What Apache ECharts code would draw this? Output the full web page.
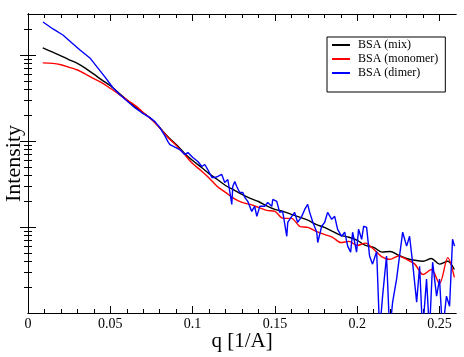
<!DOCTYPE html>
<html><head><meta charset="utf-8">
<script src="https://cdn.jsdelivr.net/npm/echarts@6/dist/echarts.min.js"></script>
<style>html,body{margin:0;padding:0;background:#fff}#c{width:464px;height:357px}</style>
</head><body><div id="c"></div>
<script>
// ---- data ----
const qCurve = [0.009,0.015,0.02,0.025,0.03,0.035,0.04,0.045,0.05,0.055,0.06,0.065,0.07,0.075,0.08,0.085,0.09,0.095,0.1,0.105,0.11,0.115,0.12,0.125,0.13,0.135,0.14,0.145,0.15,0.155,0.16,0.165,0.17,0.175,0.18,0.185,0.19,0.195,0.2,0.205,0.21,0.215,0.22,0.225,0.23,0.235,0.24,0.245,0.25,0.255,0.259];
const iMix = [121,108,98,88,80,70,60,51,44,36.4,30.2,25.1,21.3,18.0,14.3,11.2,9.1,7.23,5.93,5.0,4.18,3.57,3.04,2.70,2.39,2.15,1.98,1.76,1.60,1.52,1.40,1.30,1.20,1.07,0.99,0.89,0.80,0.76,0.70,0.61,0.58,0.51,0.52,0.47,0.43,0.41,0.40,0.43,0.37,0.40,0.32];
const iMonomer = [81,80,77,72,67,60,53,47.5,41,35.3,30.2,26,21.5,17.8,14.3,11.0,8.9,7.0,5.46,4.54,3.72,2.96,2.53,2.15,1.93,1.83,1.69,1.56,1.52,1.26,1.26,1.02,0.99,0.89,0.82,0.76,0.66,0.68,0.61,0.65,0.55,0.45,0.42,0.46,0.42,0.37,0.28,0.32,0.22,0.44,0.26];
const qDimer = [0.0091,0.0152,0.0212,0.0267,0.0316,0.0376,0.0419,0.0467,0.0516,0.0558,0.0607,0.0649,0.0692,0.074,0.0771,0.0801,0.0831,0.085,0.0862,0.0922,0.0953,0.0971,0.1001,0.1032,0.1056,0.1074,0.1092,0.1117,0.1135,0.1153,0.1177,0.1195,0.1214,0.1238,0.1244,0.1256,0.1268,0.1286,0.1305,0.1317,0.1335,0.1359,0.1377,0.139,0.1408,0.1438,0.1456,0.1481,0.1487,0.1511,0.1529,0.1547,0.1572,0.1578,0.1602,0.162,0.1638,0.1663,0.1681,0.1699,0.1711,0.1729,0.1754,0.176,0.1784,0.1802,0.182,0.1845,0.1863,0.1881,0.1905,0.1924,0.1942,0.196,0.1972,0.1996,0.2008,0.2027,0.2039,0.2057,0.2075,0.2093,0.2118,0.2136,0.2154,0.2178,0.2197,0.2215,0.2239,0.2257,0.2276,0.23,0.2318,0.2336,0.2361,0.2379,0.2397,0.2421,0.2439,0.2458,0.2482,0.25,0.2518,0.2542,0.2561,0.2579,0.2591];
const iDimer = [242,201,171,138,114.6,92.5,72.8,55.8,41.6,34.5,28.6,24.4,21.3,18.7,16.8,14.3,11.55,9.84,9.08,7.95,6.96,7.34,6.42,5.77,5.05,5.33,4.66,3.77,3.77,3.87,4.08,3.30,3.57,1.83,2.96,3.38,2.96,2.52,2.52,2.21,1.99,1.52,1.74,1.33,1.74,1.74,1.93,1.74,2.09,1.99,1.48,1.52,0.78,1.13,1.33,1.48,1.13,1.33,1.60,1.83,1.48,1.16,0.87,0.66,1.02,1.13,1.48,1.23,1.33,0.94,0.78,0.87,0.60,0.51,0.87,0.51,0.94,0.72,1.02,0.99,0.46,0.37,0.52,0.06,0.157,0.46,0.06,0.134,0.248,0.46,0.87,0.60,0.78,0.39,0.134,0.35,0.06,0.248,0.06,0.39,0.157,0.248,0.06,0.157,0.12,0.72,0.60];
const seriesNames = ['BSA (mix)','BSA (monomer)','BSA (dimer)'];
const seriesColors = ['#000000','#ff0000','#0000ff'];
const xTickLabels = [0,0.05,0.1,0.15,0.2,0.25];
const xMinorTicks = [0.01,0.02,0.03,0.04,0.06,0.07,0.08,0.09,0.11,0.12,0.13,0.14,0.16,0.17,0.18,0.19,0.21,0.22,0.23,0.24];
const yMajorTicks = [1,10,100];
const yMinorTicks = [0.2,0.3,0.4,0.5,0.6,0.7,0.8,0.9,2,3,4,5,6,7,8,9,20,30,40,50,60,70,80,90,200];

const pairs = (xs, ys) => xs.map((x, i) => [x, ys[i]]);
const FONT = 'Liberation Serif';

function xAx(pos, ticks, len, labels, name) {
  return {
    type: 'value', min: 0, max: 0.26, position: pos,
    name: name || '', nameLocation: 'middle', nameGap: 18, nameMoveOverlap: false,
    nameTextStyle: { fontFamily: FONT, fontSize: 21, color: '#000' },
    axisLine: { show: true, onZero: false, lineStyle: { color: '#000', width: 1 } },
    axisTick: { show: true, inside: true, length: len, customValues: ticks, lineStyle: { color: '#000', width: 1 } },
    axisLabel: { show: !!labels, customValues: labels || ticks, fontFamily: FONT, fontSize: 14, color: '#000', margin: 4,
      formatter: v => String(v) },
    splitLine: { show: false }
  };
}
function yAx(pos, ticks, len, name) {
  return {
    type: 'log', logBase: 10, min: 0.1, max: 300, position: pos,
    name: name || '', nameLocation: 'middle', nameGap: 3, nameRotate: 90,
    nameTextStyle: { fontFamily: FONT, fontSize: 22, color: '#000' },
    axisLine: { show: true, lineStyle: { color: '#000', width: 1 } },
    axisTick: { show: true, inside: true, length: len, customValues: ticks, lineStyle: { color: '#000', width: 1 } },
    axisLabel: { show: false },
    splitLine: { show: false }
  };
}

const chart = echarts.init(document.getElementById('c'), null, { renderer: 'canvas' });
chart.setOption({
  animation: false,
  backgroundColor: '#fff',
  grid: { left: 28, top: 14, right: 8, bottom: 44, containLabel: false, outerBoundsMode: 'none' },
  xAxis: [
    xAx('bottom', xTickLabels, 7, xTickLabels, 'q [1/A]'),
    xAx('bottom', xMinorTicks, 4),
    xAx('top', xTickLabels, 7),
    xAx('top', xMinorTicks, 4)
  ],
  yAxis: [
    yAx('left', yMajorTicks, 8, 'Intensity'),
    yAx('left', yMinorTicks, 4),
    yAx('right', yMajorTicks, 8),
    yAx('right', yMinorTicks, 4)
  ],
  legend: {
    orient: 'vertical', left: 327, top: 37,
    padding: [2, 7, 13, 5], itemGap: 2, itemWidth: 18, itemHeight: 2, icon: 'rect',
    borderColor: '#000', borderWidth: 1, backgroundColor: '#fff',
    textStyle: { fontFamily: FONT, fontSize: 12, color: '#000', padding: [0, 0, 0, 3] },
    data: seriesNames
  },
  series: [
    { name: seriesNames[0], type: 'line', data: pairs(qCurve, iMix), symbol: 'none', smooth: 0.3,
      lineStyle: { color: seriesColors[0], width: 1.4 }, itemStyle: { color: seriesColors[0] }, z: 3 },
    { name: seriesNames[1], type: 'line', data: pairs(qCurve, iMonomer), symbol: 'none', smooth: 0.3,
      lineStyle: { color: seriesColors[1], width: 1.4 }, itemStyle: { color: seriesColors[1] }, z: 4 },
    { name: seriesNames[2], type: 'line', data: pairs(qDimer, iDimer), symbol: 'none',
      lineStyle: { color: seriesColors[2], width: 1.4 }, itemStyle: { color: seriesColors[2] }, z: 5 }
  ]
});
</script></body></html>
